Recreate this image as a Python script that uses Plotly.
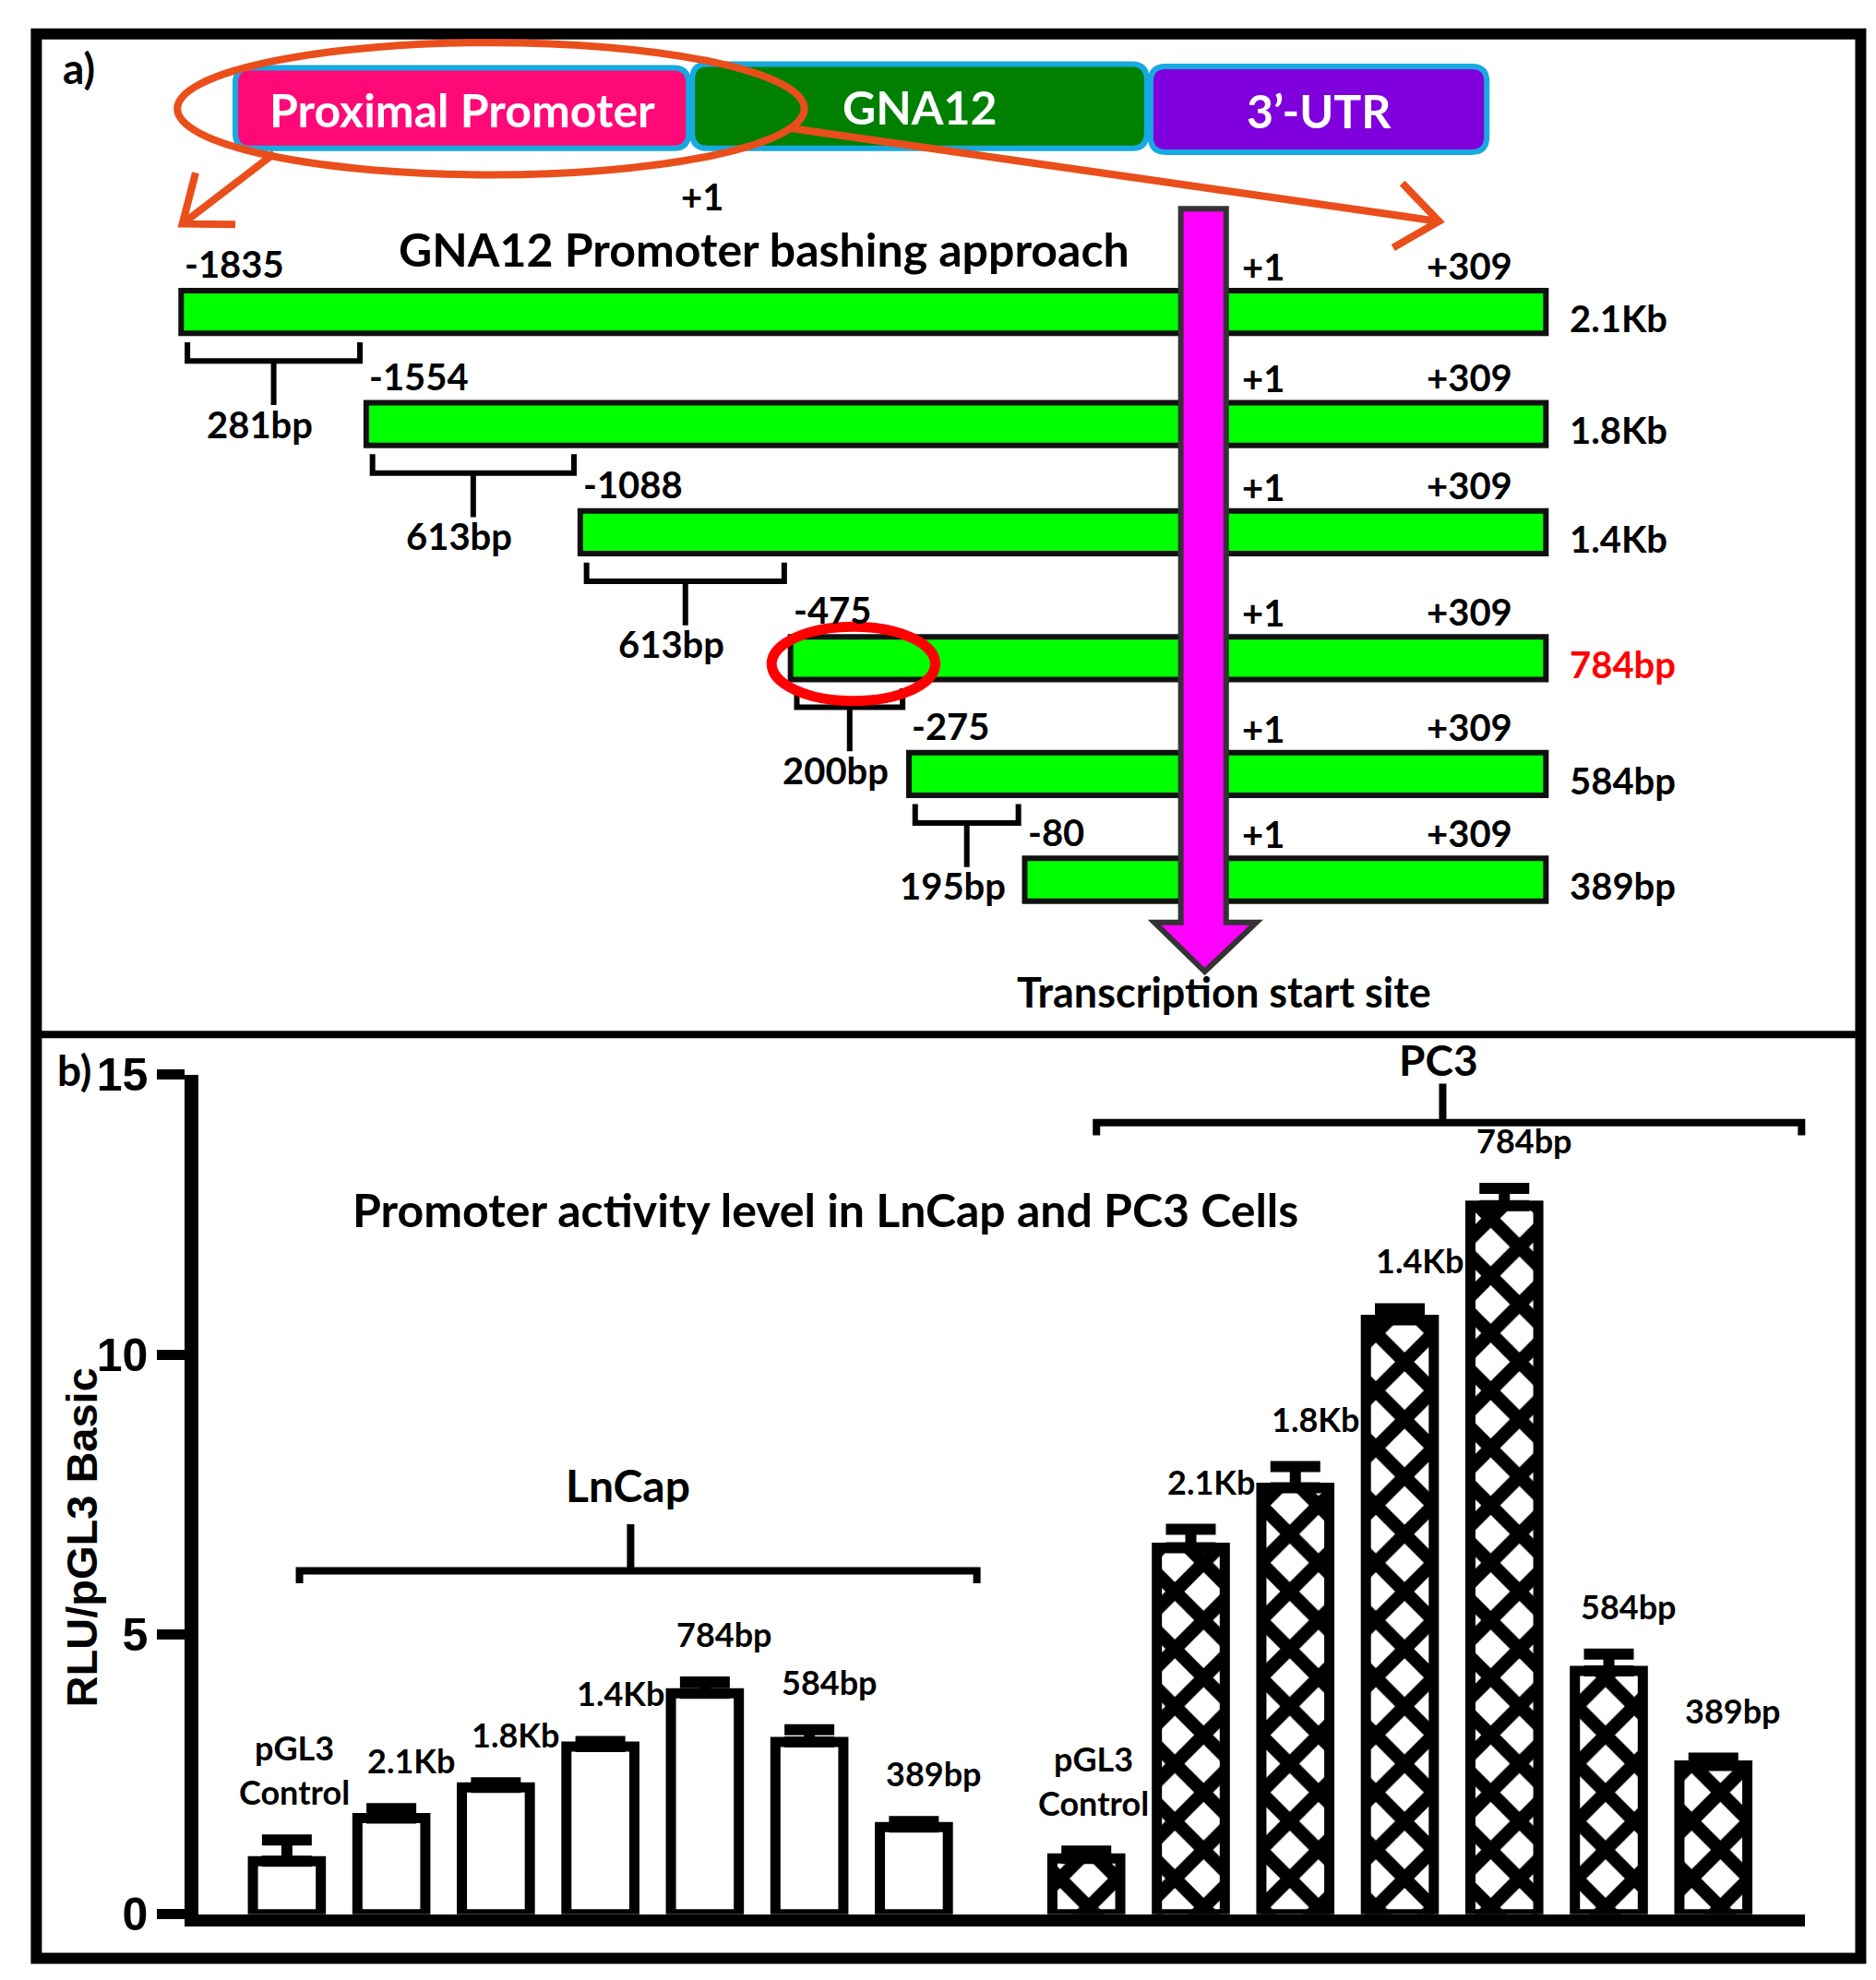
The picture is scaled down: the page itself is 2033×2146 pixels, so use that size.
import numpy as np
import plotly.graph_objects as go

# ---------------- data ----------------
CONSTRUCTS = ["pGL3 Control", "2.1Kb", "1.8Kb", "1.4Kb", "784bp", "584bp", "389bp"]
LNCAP_RLU = [0.95, 1.72, 2.27, 3.00, 3.95, 3.08, 1.56]
LNCAP_SEM = [0.38, 0.17, 0.08, 0.09, 0.20, 0.22, 0.10]
PC3_RLU = [1.00, 6.55, 7.62, 10.62, 12.66, 4.35, 2.66]
PC3_SEM = [0.13, 0.33, 0.38, 0.20, 0.31, 0.30, 0.13]
Y_TICKS = [0, 5, 10, 15]

FRAGMENTS = ["2.1Kb", "1.8Kb", "1.4Kb", "784bp", "584bp", "389bp"]
FRAG_START = ["-1835", "-1554", "-1088", "-475", "-275", "-80"]
FRAG_END = "+309"
TSS_LABEL = "+1"
DELETIONS = ["281bp", "613bp", "613bp", "200bp", "195bp"]
GENE_PARTS = ["Proximal Promoter", "GNA12", "3’-UTR"]
GENE_COLORS = ["#FF0878", "#008000", "#7F00DD"]

# ---------------- schematic layout (diagram units, 1490 x 1573 canvas) ----------------
W, H = 2033, 2146
DW, DH = 1490, 1573
ROW_Y = [242, 331, 417, 517, 609, 693]
ROW_X0 = [138, 285, 455, 622, 716, 808]
ROW_X1 = 1222
ROW_H = 34
TSS_X0, TSS_X1 = 932, 968
BOXES = [(181, 48, 541, 112), (544, 45, 905, 112), (908, 47, 1175, 115)]

# bar chart layout
GROUP_GAP = 0.65
BAR_W = 0.65
X_RANGE = [-0.843, 14.53]
XDOM = [152 / DW, 1428 / DW]
YDOM = [1 - 1515 / DH, 1 - 848 / DH]

ORANGE = "#E94E1B"
FONT = "Lato"

fig = go.Figure()

# ---------------- panel b: bars ----------------
ln_x = np.arange(len(CONSTRUCTS), dtype=float)
pc_x = ln_x + len(CONSTRUCTS) + GROUP_GAP

fig.add_trace(go.Bar(
    x=ln_x, y=LNCAP_RLU, width=BAR_W, name="LnCap",
    marker=dict(color="white", line=dict(color="black", width=11)),
    error_y=dict(type="data", symmetric=False, array=LNCAP_SEM,
                 arrayminus=[0] * len(LNCAP_SEM), color="black", thickness=12, width=27),
    xaxis="x", yaxis="y", showlegend=False))
fig.add_trace(go.Bar(
    x=pc_x, y=PC3_RLU, width=BAR_W, name="PC3",
    marker=dict(color="white", line=dict(color="black", width=11),
                pattern=dict(shape="x", size=44, solidity=0.55, fgcolor="black",
                             bgcolor="white", fgopacity=1)),
    error_y=dict(type="data", symmetric=False, array=PC3_SEM,
                 arrayminus=[0] * len(PC3_SEM), color="black", thickness=12, width=27),
    xaxis="x", yaxis="y", showlegend=False))

# ---------------- panel a: promoter fragments ----------------
fig.add_trace(go.Bar(
    orientation="h", y=ROW_Y, base=ROW_X0, x=[ROW_X1 - x0 for x0 in ROW_X0],
    width=ROW_H, marker=dict(color="#00FF00", line=dict(color="#111111", width=6)),
    xaxis="x2", yaxis="y2", showlegend=False, hoverinfo="skip"))

shapes = []
annotations = []


def txt(text, x, y, size, xanchor="center", yanchor="middle", color="black",
        family=FONT, bold=True, angle=0, xref="x2", yref="y2", yshift=0):
    annotations.append(dict(
        text=f"<b>{text}</b>" if bold else text, x=x, y=y, xref=xref, yref=yref,
        xanchor=xanchor, yanchor=yanchor, showarrow=False, textangle=angle,
        yshift=yshift, font=dict(family=family, size=size, color=color)))


def line_path(d, color="black", width=6):
    shapes.append(dict(type="path", path=d, xref="x2", yref="y2",
                       line=dict(color=color, width=width), layer="above"))


def rounded(x0, y0, x1, y1, r):
    return (f"M {x0+r},{y0} L {x1-r},{y0} Q {x1},{y0} {x1},{y0+r} L {x1},{y1-r} "
            f"Q {x1},{y1} {x1-r},{y1} L {x0+r},{y1} Q {x0},{y1} {x0},{y1-r} "
            f"L {x0},{y0+r} Q {x0},{y0} {x0+r},{y0} Z")


def arrow(x0, y0, x1, y1, L=42, ang=38, color=ORANGE, width=8):
    d = np.array([x0 - x1, y0 - y1], float)
    d /= np.hypot(*d)
    pts = []
    for a in (ang, -ang):
        t = np.radians(a)
        rx = d[0] * np.cos(t) - d[1] * np.sin(t)
        ry = d[0] * np.sin(t) + d[1] * np.cos(t)
        pts.append((x1 + L * rx, y1 + L * ry))
    line_path(f"M {x0},{y0} L {x1},{y1}", color, width)
    line_path(f"M {pts[0][0]:.1f},{pts[0][1]:.1f} L {x1},{y1} L {pts[1][0]:.1f},{pts[1][1]:.1f}",
              color, width)


# outer frame + divider
shapes.append(dict(type="rect", x0=23, y0=21, x1=1472, y1=1550, xref="x2", yref="y2",
                   line=dict(color="black", width=12), layer="above"))
shapes.append(dict(type="line", x0=23, y0=816, x1=1472, y1=816, xref="x2", yref="y2",
                   line=dict(color="black", width=8), layer="above"))

# gene banner
for (x0, y0, x1, y1), name, col in zip(BOXES, GENE_PARTS, GENE_COLORS):
    shapes.append(dict(type="path", path=rounded(x0, y0, x1, y1, 12), xref="x2", yref="y2",
                       fillcolor=col, line=dict(color="#17A9E1", width=6), layer="above"))
    txt(name, (x0 + x1) / 2, (y0 + y1) / 2 + 1, 50, color="white")

# orange ellipse and arrows
shapes.append(dict(type="circle", x0=135, y0=28, x1=633, y1=133, xref="x2", yref="y2",
                   line=dict(color=ORANGE, width=8), layer="above"))
arrow(212, 116, 139, 172)
arrow(622, 96, 1137, 170)

txt(TSS_LABEL, 552, 150, 40)
txt("GNA12 Promoter bashing approach", 601, 192, 50)
txt("a)", 57, 48, 46)

# fragment labels
for i, (yc, x0) in enumerate(zip(ROW_Y, ROW_X0)):
    txt(FRAG_START[i], x0 + 1, yc - 38, 40, xanchor="left")
    txt(TSS_LABEL, 979, yc - 36, 40, xanchor="left")
    txt(FRAG_END, 1197, yc - 37, 40, xanchor="right")
    txt(FRAGMENTS[i], 1239, yc + 5, 40, xanchor="left",
        color="#FF0000" if FRAGMENTS[i] == "784bp" else "black")

# deletion brackets
for i, lab in enumerate(DELETIONS):
    xa, xb = ROW_X0[i] + 5, ROW_X0[i + 1] - 5
    yb = ROW_Y[i] + ROW_H / 2 + 2
    yh = yb + 20
    xm = (xa + xb) / 2
    line_path(f"M {xa},{yb+5} L {xa},{yh} L {xb},{yh} L {xb},{yb+5} M {xm},{yh} L {xm},{yh+35}",
              "black", 6)
    txt(lab, xm - 11, yh + 50, 40)

# red ellipse around -475 start
shapes.append(dict(type="circle", x0=607, y0=492, x1=737, y1=551, xref="x2", yref="y2",
                   line=dict(color="#FF0000", width=11), layer="above"))

# magenta TSS arrow
shapes.append(dict(type="path", xref="x2", yref="y2", layer="above",
                   path=(f"M {TSS_X0},160 L {TSS_X1},160 L {TSS_X1},727 L 992,727 "
                         f"L 951,766 L 911,727 L {TSS_X0},727 Z"),
                   fillcolor="#FF00FF", line=dict(color="#333333", width=6)))
txt("Transcription start site", 966, 782, 45)

# ---------------- panel b annotations ----------------
for xs, vals, errs in ((ln_x, LNCAP_RLU, LNCAP_SEM), (pc_x, PC3_RLU, PC3_SEM)):
    for i, name in enumerate(CONSTRUCTS):
        cap = vals[i] + errs[i]
        if name == "pGL3 Control":
            txt("Control", xs[i] + 0.07, cap, 36, xref="x", yref="y", yshift=52)
            txt("pGL3", xs[i] + 0.07, cap, 36, xref="x", yref="y", yshift=100)
        else:
            txt(name, xs[i] + 0.19, cap, 36, xref="x", yref="y", yshift=52)

txt("Promoter activity level in LnCap and PC3 Cells", 650, 955, 50)
txt("b)", 53, 844, 46)
txt("RLU/pGL3 Basic", 59, 1216, 47, family="Liberation Sans", bold=True, angle=-90)

# group brackets
line_path("M 232,1252 L 232,1242 L 770,1242 L 770,1252 M 495,1242 L 495,1205", "black", 8)
txt("LnCap", 493, 1174, 48)
line_path("M 865,896 L 865,886 L 1425,886 L 1425,896 M 1140,886 L 1140,855", "black", 8)
txt("PC3", 1137, 836, 46)

fig.update_layout(
    width=W, height=H, margin=dict(l=0, r=0, t=0, b=0, pad=0, autoexpand=False),
    paper_bgcolor="white", plot_bgcolor="rgba(0,0,0,0)",
    barmode="overlay", showlegend=False,
    shapes=shapes, annotations=annotations,
    xaxis=dict(domain=XDOM, range=X_RANGE, showline=True, linewidth=13, linecolor="black",
               showticklabels=False, ticks="", showgrid=False, zeroline=False, anchor="y",
               automargin=False),
    yaxis=dict(domain=YDOM, range=[0, 15], showline=True, linewidth=15, linecolor="black",
               tickvals=Y_TICKS, ticks="outside", ticklen=30, tickwidth=11, tickcolor="black",
               tickfont=dict(family="Liberation Sans", size=50, color="black", weight="bold"),
               showgrid=False, zeroline=False, anchor="x", automargin=False),
    xaxis2=dict(domain=[0, 1], range=[0, DW], visible=False, anchor="y2", automargin=False),
    yaxis2=dict(domain=[0, 1], range=[DH, 0], visible=False, anchor="x2", automargin=False),
)

fig.write_html("out.html")
